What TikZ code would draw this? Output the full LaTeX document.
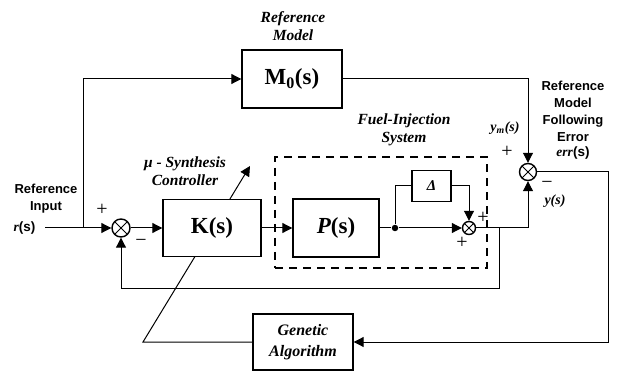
\documentclass[tikz,border=0pt]{standalone}
\usepackage{fontspec}
\setmainfont{Liberation Serif}
\setsansfont{Liberation Sans}
\usetikzlibrary{arrows.meta}
\begin{document}
\begin{tikzpicture}[x=1pt,y=-1pt,
  line width=1pt,
  arr/.style={-{Triangle[length=10pt,width=10pt]}},
  blk/.style={draw, fill=white, line width=1.4pt, inner sep=0pt, font=\fontsize{23}{23}\selectfont\bfseries},
  sumj/.style={draw, circle, line width=1.4pt, minimum size=#1, inner sep=0pt,
    path picture={\draw[line width=1pt] (path picture bounding box.north west)--(path picture bounding box.south east)
      (path picture bounding box.north east)--(path picture bounding box.south west);}},
  itlab/.style={font=\fontsize{15.5}{18}\selectfont\bfseries\itshape, align=center, inner sep=0pt},
  sflab/.style={font=\fontsize{13}{17}\selectfont\sffamily\bfseries, align=center, inner sep=0pt},
  sgn/.style={font=\fontsize{20}{20}\selectfont, inner sep=0pt}
]
\useasboundingbox (0,0) rectangle (618,371);

% genetic algorithm block and its tuning line (drawn first, behind K)
\node[blk, minimum width=100pt, minimum height=56pt, font=\fontsize{16}{21}\selectfont\bfseries\itshape, align=center] (GA) at (303,342) {Genetic\\Algorithm};
\coordinate (c3) at (143,342);
\coordinate (tip) at (250,166);
\draw[arr] (GA.west) -- (c3) -- (tip);

% blocks
\node[blk, minimum width=100pt, minimum height=58pt] (M0) at (292,79) {M\textsubscript{0}(s)};
\node[blk, minimum width=98pt, minimum height=57pt] (K) at (212,228) {K(s)};
\node[blk, minimum width=86pt, minimum height=58pt] (P) at (336,228) {\textit{P}(s)};
\node[blk, minimum width=39pt, minimum height=31pt, font=\fontsize{15}{15}\selectfont\bfseries\itshape] (D) at (431.5,186) {Δ};
\node[draw, dashed, dash pattern=on 8pt off 6pt, line width=1.2pt, minimum width=212pt, minimum height=111pt, inner sep=0pt] (FIS) at (381,212.5) {};

% summing junctions
\node[sumj=18pt] (S1) at (121,228) {};
\node[sumj=17pt] (S2) at (528,172) {};
\node[sumj=13pt] (S3) at (469,228) {};

% coordinates
\coordinate (rin) at (45,228);
\coordinate (j1) at (83,228);
\node[circle, fill, inner sep=0pt, minimum size=6.5pt] (dot) at (395,228) {};
\coordinate (j3) at (499,228);
\coordinate (fbR) at (499,288);
\coordinate (fbL) at (121,288);
\coordinate (c2) at (608,342);

% connectors
\draw[arr] (rin) -- (S1.west);
\draw[arr] (j1) |- (M0.west);
\draw[arr] (M0.east) -| (S2.north);
\draw[arr] (S1.east) -- (K.west);
\draw[arr] (K.east) -- (P.west);
\draw (P.east) -- (dot);
\draw[arr] (dot) -- (S3.west);
\draw (dot) |- (D.west);
\draw[arr] (D.east) -| (S3.north);
\draw[arr] (S3.east) -| (S2.south);
\draw[arr] (j3) -- (fbR) -- (fbL) -- (S1.south);
\draw[arr] (S2.east) -| (c2) -- (GA.east);

% labels
\node[itlab] (lRM) at (293,26) {Reference\\Model};
\node[itlab] (lFIS) at (404,129.5) {Fuel-Injection\\System};
\node[itlab] (lMU) at (185,171) {\textit{μ} - Synthesis\\Controller};
\node[sflab] (lRI) at (46,199) {Reference\\Input};
\node[font=\fontsize{13.5}{13.5}\selectfont\bfseries, anchor=west, inner sep=0pt] (lr) at (13,228) {\textit{r}\textsf{(s)}};
\node[sflab] (lRE) at (573,111) {Reference\\Model\\Following\\Error};
\node[font=\fontsize{13.5}{13.5}\selectfont\bfseries, inner sep=0pt] (lerr) at (573,153) {\textit{err}\textsf{(s)}};
\node[font=\fontsize{14}{14}\selectfont\bfseries\itshape, inner sep=0pt] (lym) at (505,128) {y\textsubscript{m}(s)};
\node[font=\fontsize{14}{14}\selectfont\bfseries\itshape, inner sep=0pt] (ly) at (555,201) {y(s)};

% signs
\node[sgn] (p1) at (102,210) {+};
\node[sgn] (m1) at (141,243) {−};
\node[sgn] (p2) at (507,152) {+};
\node[sgn] (m2) at (547,185) {−};
\node[sgn] (p3) at (483,218) {+};
\node[sgn] (p4) at (462,243) {+};
\end{tikzpicture}
\end{document}
